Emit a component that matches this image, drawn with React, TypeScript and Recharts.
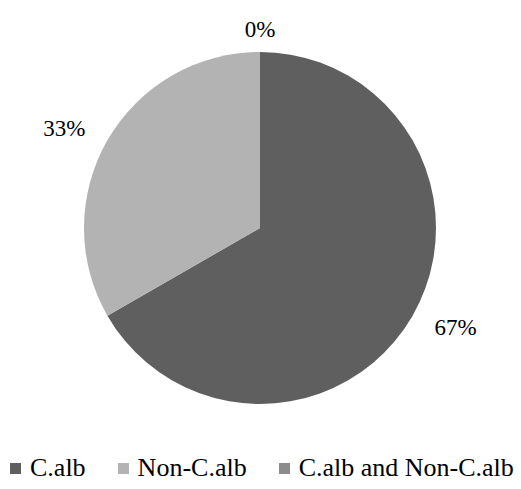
import React from 'react'
import { PieChart, Pie, Cell, Legend } from 'recharts'

const categories = ['C.alb', 'Non-C.alb', 'C.alb and Non-C.alb']
const shares = [66.7, 33.3, 0]
const colors = ['#5f5f5f', '#b3b3b3', '#8c8c8c']

const data = categories.map((name, i) => ({ name, value: shares[i] }))

const FONT = '"Liberation Serif", "Times New Roman", serif'
const RAD = Math.PI / 180

function OutsideLabel(props: any): React.ReactElement {
  const { cx, cy, midAngle, outerRadius, percent } = props
  const c = Math.cos(-midAngle * RAD)
  const s = Math.sin(-midAngle * RAD)
  // label box sits just outside the rim, wider sideways than up/down
  const x = cx + outerRadius * c + 50 * c
  const y = cy + outerRadius * s + 23 * s
  return (
    <text x={x} y={y} textAnchor="middle" dominantBaseline="central" fill="#000" style={{ fontFamily: FONT, fontSize: 23 }}>
      {`${Math.round(percent * 100)}%`}
    </text>
  )
}

function LegendContent(): React.ReactElement {
  return (
    <div style={{ display: 'flex', alignItems: 'center', fontFamily: FONT, fontSize: 26, color: '#000', lineHeight: '28px', whiteSpace: 'nowrap' }}>
      {categories.map((name, i) => (
        <div key={name} style={{ display: 'flex', alignItems: 'center', marginRight: 32, flexShrink: 0 }}>
          <span style={{ display: 'inline-block', width: 11, height: 11, background: colors[i], marginRight: 9 }} />
          <span>{name}</span>
        </div>
      ))}
    </div>
  )
}

export default function App(): React.ReactElement {
  return (
    <div style={{ position: 'absolute', left: 0, top: 0, width: 521, height: 489, background: '#fff', fontFamily: FONT }}>
      <PieChart width={521} height={489} margin={{ top: 0, right: 0, bottom: 0, left: 0 }}>
        <Pie
          data={data}
          dataKey="value"
          nameKey="name"
          cx={260}
          cy={228}
          outerRadius={176}
          startAngle={90}
          endAngle={-270}
          stroke="none"
          labelLine={false}
          label={OutsideLabel}
          isAnimationActive={false}
        >
          {data.map((d, i) => (
            <Cell key={d.name} fill={colors[i]} />
          ))}
        </Pie>
        <Legend
          content={<LegendContent />}
          wrapperStyle={{ position: 'absolute', left: 10, top: 454, width: 511 }}
        />
      </PieChart>
    </div>
  )
}
